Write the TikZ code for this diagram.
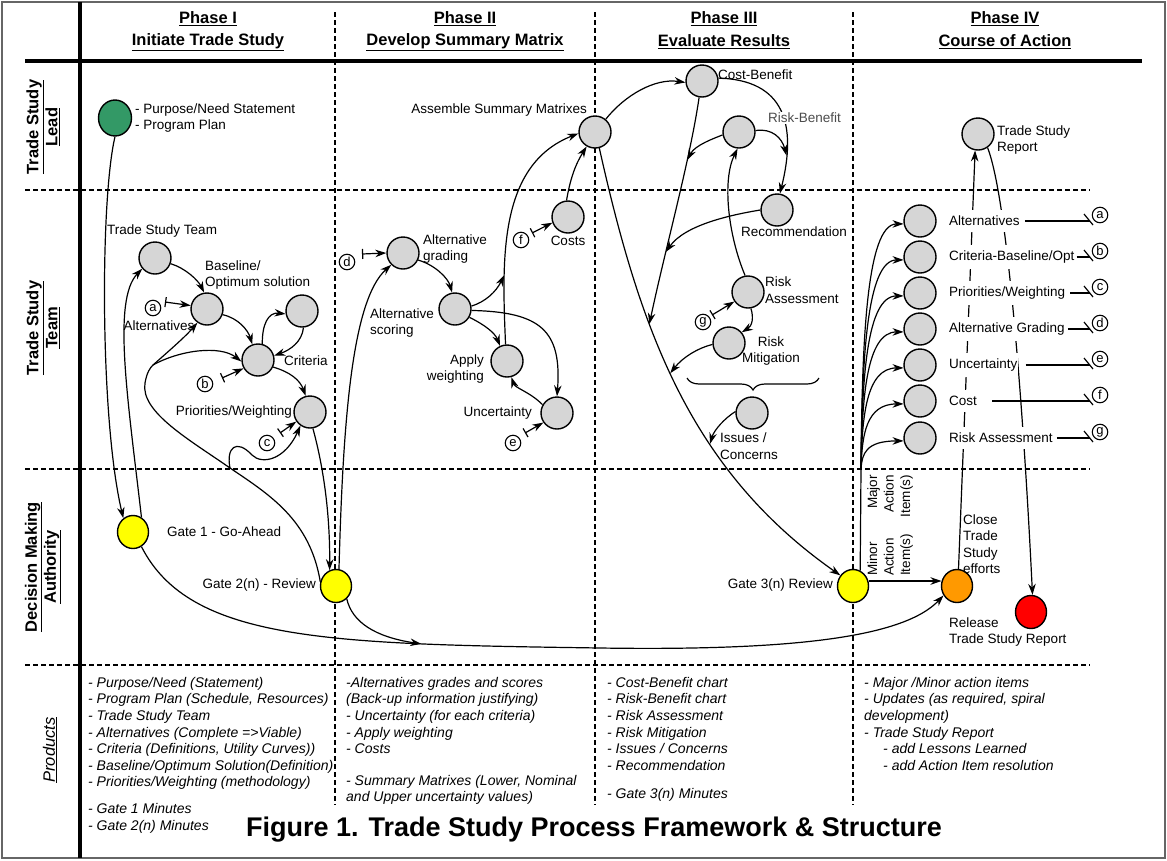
\documentclass[tikz,border=0pt]{standalone}
\usepackage{fontspec}
\setmainfont{Liberation Sans}
\usetikzlibrary{arrows.meta,shapes.geometric,decorations.pathreplacing,calc}
\definecolor{ngray}{RGB}{214,214,214}
\definecolor{ngreen}{RGB}{51,153,102}
\definecolor{nyellow}{RGB}{255,255,0}
\definecolor{norange}{RGB}{255,153,0}
\definecolor{nred}{RGB}{255,0,0}
\begin{document}
\begin{tikzpicture}[x=1pt,y=-1pt,
  nd/.style={ellipse,draw,line width=1.4pt,fill=ngray,minimum width=32pt,minimum height=32pt,inner sep=0pt},
  gate/.style={ellipse,draw,line width=1.4pt,minimum width=31pt,minimum height=33pt,inner sep=0pt},
  lbl/.style={font=\fontsize{13.5}{16.5}\selectfont,inner sep=1pt},
  hdr/.style={font=\fontsize{16.5}{19}\selectfont\bfseries,inner sep=0pt},
  rowl/.style={font=\fontsize{16.5}{19}\selectfont\bfseries,align=center,rotate=90,inner sep=0pt},
  prod/.style={font=\fontsize{14}{16.6}\selectfont\itshape,align=left,anchor=north west,inner sep=0pt},
  cl/.style={circle,draw,line width=1.1pt,inner sep=0pt,minimum size=15.5pt,font=\fontsize{13}{13}\selectfont},
  arr/.style={-{Stealth[length=11pt,width=7.5pt,inset=3.5pt]},line width=1.2pt},
  barr/.style={{Bar[width=10pt]}-{Stealth[length=11pt,width=7.5pt,inset=3.5pt]},line width=1.2pt},
  ln/.style={line width=1.2pt},
  dsh/.style={dash pattern=on 5pt off 3pt,line width=1.1pt},
]
\useasboundingbox (0,0) rectangle (1167,860);
% frame
\draw[black!60,line width=1.5pt] (2,2) rectangle (1165,858);
\draw[line width=4pt] (80,2) -- (80,858);
\draw[line width=4pt] (25,61) -- (1142,61);
\foreach \yy in {190,469,665} \draw[dsh] (25,\yy) -- (1090,\yy);
\foreach \xx in {335,595,853} \draw[dsh] (\xx,12) -- (\xx,805);
% headers
\node[hdr] (h1a) at (208,19) {\underline{Phase I}};
\node[hdr] (h1b) at (208,42) {\underline{Initiate Trade Study}};
\node[hdr] (h2a) at (465,19) {\underline{Phase II}};
\node[hdr] (h2b) at (465,42) {\underline{Develop Summary Matrix}};
\node[hdr] (h3a) at (724,19) {\underline{Phase III}};
\node[hdr] (h3b) at (724,42) {\underline{Evaluate Results}};
\node[hdr] (h4a) at (1005,19) {\underline{Phase IV}};
\node[hdr] (h4b) at (1005,42) {\underline{Course of Action}};
\node[rowl] (r1) at (43,127) {\underline{Trade Study}\\\underline{Lead}};
\node[rowl] (r2) at (43,328) {\underline{Trade Study}\\\underline{Team}};
\node[rowl] (r3) at (43,567) {\underline{Decision Making}\\\underline{Authority}};
\node[rotate=90,font=\fontsize{16.5}{19}\selectfont\itshape,inner sep=0pt] (r4) at (50,750) {\underline{Products}};
% gates
\node[gate,fill=ngreen,minimum width=33pt,minimum height=36pt] (grn) at (115,118) {};
\node[gate,fill=nyellow] (g1) at (133,532) {};
\node[gate,fill=nyellow] (g2) at (336,586) {};
\node[gate,fill=nyellow] (g3) at (853,586) {};
\node[gate,fill=norange] (org) at (957,586) {};
\node[gate,fill=nred] (red) at (1031,612) {};
% phase I nodes
\node[nd] (tst) at (155,258) {};
\node[nd] (bas) at (207,309) {};
\node[nd] (ext) at (302,311) {};
\node[nd] (cri) at (258,360) {};
\node[nd] (pri) at (310,412) {};
% phase II nodes
\node[nd] (ag) at (403,253) {};
\node[nd] (as) at (455,309) {};
\node[nd] (aw) at (507,361) {};
\node[nd] (unc) at (557,413) {};
\node[nd] (cst) at (568,217) {};
\node[nd] (asm) at (595,132) {};
% phase III nodes
\node[nd] (cb) at (702,81) {};
\node[nd] (rb) at (739,132) {};
\node[nd] (rec) at (777,210) {};
\node[nd] (ra) at (748,292) {};
\node[nd] (rm) at (729,343) {};
\node[nd] (iss) at (752,413) {};
% phase IV nodes
\node[nd] (tsr) at (978,134) {};
\foreach \i/\y in {1/221,2/257,3/293,4/329,5/365,6/401,7/438} \node[nd] (p\i) at (920,\y) {};
% labels
\node[lbl,anchor=west,align=left] (tgrn) at (134,118) {- Purpose/Need Statement\\- Program Plan};
\node[lbl,anchor=west] (t1) at (166,532) {Gate 1 - Go-Ahead};
\node[lbl,anchor=east] (t2) at (317,585) {Gate 2(n) - Review};
\node[lbl,anchor=east] (t3) at (834,585) {Gate 3(n) Review};
\node[lbl,anchor=west] (ttst) at (106,231) {Trade Study Team};
\node[lbl,anchor=west,align=left] (tbas) at (204,275) {Baseline/\\Optimum solution};
\node[lbl] (talt) at (159,326) {Alternatives};
\node[lbl,anchor=west] (tcri) at (283,361) {Criteria};
\node[lbl,anchor=east] (tpri) at (293,412) {Priorities/Weighting};
\node[lbl,anchor=west,align=left] (tag) at (422,249) {Alternative\\grading};
\node[lbl,anchor=west,align=left] (tas) at (369,323) {Alternative\\scoring};
\node[lbl,anchor=east,align=right] (taw) at (485,369) {Apply\\weighting};
\node[lbl,anchor=east] (tunc) at (533,413) {Uncertainty};
\node[lbl] (tcst) at (568,241) {Costs};
\node[lbl,anchor=east] (tasm) at (588,110) {Assemble Summary Matrixes};
\node[lbl,anchor=west] (tcb) at (717,75) {Cost-Benefit};
\node[lbl] (trec) at (794,232) {Recommendation};
\node[lbl,anchor=west,align=left] (tra) at (764,290) {Risk\\Assessment};
\node[lbl,align=center] (trm) at (771,351) {Risk\\Mitigation};
\node[lbl,anchor=west,align=left] (tiss) at (719,446) {Issues /\\Concerns};
\node[lbl,anchor=west,align=left] (ttsr) at (996,140) {Trade Study\\Report};
\node[lbl,anchor=west,align=left] (tclose) at (962,544) {Close\\Trade\\Study\\efforts};
\node[lbl,anchor=west,align=left] (trel) at (948,632) {Release\\Trade Study Report};
\node[lbl,rotate=90,anchor=east,align=right] (tmaj) at (890,474) {Major\\Action\\Item(s)};
\node[lbl,rotate=90,anchor=west,align=left] (tmin) at (890,577) {Minor\\Action\\Item(s)};
% circled letters
\node[cl] (la) at (153,308) {a};
\node[cl] (lb) at (205,384) {b};
\node[cl] (lc) at (267,443) {c};
\node[cl] (ld) at (347,262) {d};
\node[cl] (le) at (513,443) {e};
\node[cl] (lf) at (521,240) {f};
\node[cl] (lg) at (703,322) {g};
% phase I connectors
\draw[arr] (grn.south) .. controls (100,200) and (100,420) .. (g1.125);
\draw[arr] (g1.60) .. controls (128,400) and (112,300) .. (tst.220);
\draw[arr] (tst.-20) .. controls (185,268) and (198,280) .. (bas.100);
\draw[barr] ($(la)+(12,-6)$) -- (bas.168);
\draw[arr] (bas.-20) .. controls (238,318) and (248,330) .. (cri.110);
\draw[arr] (cri.75) .. controls (262,325) and (268,312) .. (ext.190);
\draw[arr] (ext.-85) .. controls (302,342) and (290,350) .. (cri.15);
\draw[barr] ($(lb)+(17,-6)$) -- (cri.210);
\draw[arr] (cri.-25) .. controls (290,372) and (300,380) .. (pri.105);
\draw[barr] ($(lc)+(13,-10)$) -- (pri.215);
\draw[arr] (pri.-80) .. controls (327,480) and (330,530) .. (g2.112);
\draw[ln] (g2.165) .. controls (310,520) and (270,495) .. (230,468) coordinate (lp1)
   .. controls (190,440) and (140,412) .. (145,383) .. controls (147,372) and (150,368) .. (153,365) coordinate (lp2);
\draw[arr] (lp2) .. controls (170,350) and (185,337) .. (bas.235);
\draw[arr] (lp2) .. controls (180,350) and (220,345) .. (cri.185);
\draw[arr] (lp1) .. controls (226,448) and (236,438) .. (252,455) .. controls (262,465) and (285,460) .. (pri.235);
\draw[arr] (g1.-60) .. controls (190,642) and (330,644) .. (600,648) coordinate[pos=0.75] (j2)
   .. controls (800,651) and (905,636) .. (org.215);
\draw[arr] (g2.-50) .. controls (352,622) and (375,637) .. (j2);
% phase II connectors
\draw[arr] (g2.80) .. controls (343,420) and (352,300) .. (ag.225);
\draw[barr] ($(ld)+(15,-8)$) -- (ag.180);
\draw[arr] (ag.-25) .. controls (435,265) and (448,278) .. (as.100);
\draw[arr] (as.-30) .. controls (485,325) and (495,333) .. (aw.115);
\draw[arr] (as.-5) .. controls (540,312) and (562,330) .. (unc.90);
\draw[arr] (unc.150) .. controls (530,392) and (515,388) .. (aw.-75);
\draw[barr] ($(le)+(12,-10)$) -- (unc.215);
\draw[arr] (aw.95) .. controls (502,260) and (498,165) .. (asm.185) coordinate[pos=0.27] (m7);
\draw[arr] (as.10) .. controls (485,302) and (496,292) .. (m7);
\draw[barr] ($(lf)+(11,-7)$) -- (cst.200);
\draw[arr] (cst.95) .. controls (570,180) and (575,165) .. (asm.240);
% phase III connectors
\draw[arr] (asm.50) .. controls (625,95) and (655,78) .. (cb.185);
\draw[arr] (asm.-75) .. controls (640,330) and (690,470) .. (g3.140)
   coordinate[pos=0.35] (m1) coordinate[pos=0.46] (m2) coordinate[pos=0.63] (m3);
\draw[arr] (cb.-100) .. controls (690,160) and (665,250) .. (m1) coordinate[pos=0.69] (m4) coordinate[pos=0.3] (m5);
\draw[arr] (rec.180) .. controls (730,215) and (685,225) .. (m4);
\draw[arr] (rb.190) .. controls (715,138) and (695,145) .. (m5);
\draw[arr] (cb.10) .. controls (785,80) and (797,125) .. (rec.80) coordinate[pos=0.8] (m6);
\draw[arr] (rb.5) .. controls (772,128) and (782,138) .. (m6);
\node[lbl,fill=white,text=black!70,anchor=west] (trb) at (767,118) {Risk-Benefit};
\draw[arr] (ra.100) .. controls (728,235) and (722,180) .. (rb.-95);
\draw[arr] (ra.-80) .. controls (754,318) and (752,326) .. (rm.40);
\draw[barr] ($(lg)+(9,-7)$) -- (ra.215);
\draw[arr] (rm.185) .. controls (698,348) and (683,357) .. (m2);
\draw[arr] (iss.175) .. controls (725,418) and (714,430) .. (m3);
\draw[ln,decorate,decoration={brace,amplitude=12pt,mirror}] (687,378) -- (819,378);
% phase IV connectors
\coordinate (fb) at (861,469);
\draw[ln] (g3.65) -- (fb);
\foreach \i/\y in {1/221,2/257,3/293,4/329,5/365,6/401,7/438}
  \draw[arr] (fb) .. controls (862,{\y+0.5*(469-\y)}) and (866,\y+3) .. (p\i.190);
\draw[arr] ($(g3.center)+(15.5,-5)$) -- ($(org.center)+(-15.5,-5)$);
\draw[arr] (org.85) -- (tsr.-100);
\draw[arr] (tsr.-55) .. controls (1008,200) and (1024,420) .. (red.85);
\node[lbl,fill=white,anchor=west,inner ysep=6pt] (q1) at (948,221) {Alternatives};
\node[lbl,fill=white,anchor=west,inner ysep=6pt] (q2) at (948,257) {Criteria-Baseline/Opt};
\node[lbl,fill=white,anchor=west,inner ysep=6pt] (q3) at (948,293) {Priorities/Weighting};
\node[lbl,fill=white,anchor=west,inner ysep=6pt] (q4) at (948,329) {Alternative Grading};
\node[lbl,fill=white,anchor=west,inner ysep=6pt] (q5) at (948,365) {Uncertainty};
\node[lbl,fill=white,anchor=west,inner ysep=6pt] (q6) at (948,401) {Cost};
\node[lbl,fill=white,anchor=west,inner ysep=6pt] (q7) at (948,438) {Risk Assessment};
\foreach \i/\y/\g/\c in {1/221/4/a,2/257/1/b,3/293/4/c,4/329/2/d,5/365/7/e,6/401/14/f,7/438/3/g}{
  \coordinate (e\i) at (1090,\y);
  \node[cl] (o\i) at (1100,\y-6) {\c};
  \draw[ln] ($(q\i.east)+(\g,0)$) -- (e\i);
  \draw[ln] ($(e\i)+(-6,-7)$) -- ($(e\i)+(3,4)$);
}
% products
\node[prod] (pr1) at (88,677) {- Purpose/Need (Statement)\\- Program Plan (Schedule, Resources)\\- Trade Study Team\\- Alternatives (Complete =>Viable)\\- Criteria (Definitions, Utility Curves))\\- Baseline/Optimum Solution(Definition)\\- Priorities/Weighting (methodology)\\[10pt]- Gate 1 Minutes\\- Gate 2(n) Minutes};
\node[prod] (pr2) at (346,677) {-Alternatives grades  and scores\\(Back-up information justifying)\\- Uncertainty (for each criteria)\\- Apply weighting\\- Costs\\[15pt]- Summary Matrixes (Lower, Nominal\\and Upper uncertainty values)};
\node[prod] (pr3) at (607,677) {- Cost-Benefit chart\\- Risk-Benefit chart\\- Risk Assessment\\- Risk Mitigation\\- Issues / Concerns\\- Recommendation\\[12pt]- Gate 3(n) Minutes};
\node[prod] (pr4) at (864,677) {- Major /Minor action items\\- Updates (as required, spiral\\development)\\- Trade Study Report\\\hspace*{19pt}- add Lessons Learned\\\hspace*{19pt}- add Action Item resolution};
\node[font=\fontsize{27}{31}\selectfont\bfseries,inner sep=0pt] (title) at (594,830) {Figure 1. Trade Study Process Framework \& Structure};
\end{tikzpicture}
\end{document}
